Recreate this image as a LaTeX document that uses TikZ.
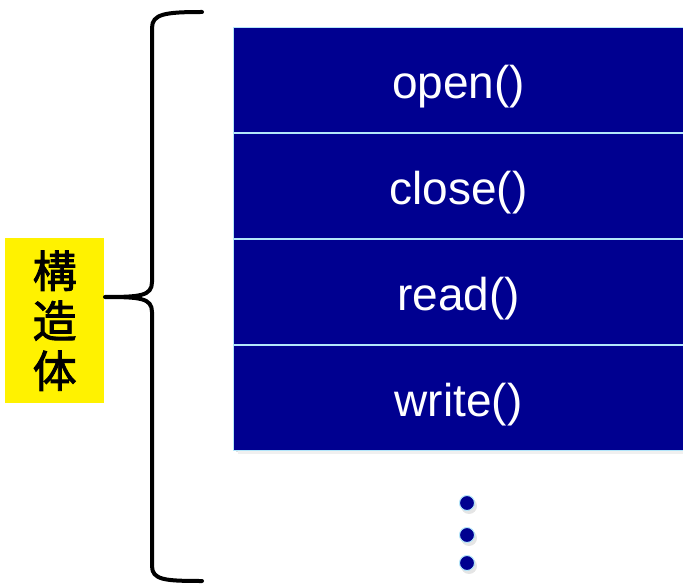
\documentclass[tikz,border=0pt]{standalone}
\usepackage{fontspec}
\setmainfont{Liberation Sans}
\newfontfamily\cjk[FakeBold=2]{Noto Sans CJK JP}
\begin{document}
\begin{tikzpicture}[x=1pt,y=-1pt,
  rowbox/.style={draw=cyan!30!white,line width=1.2pt,fill={rgb,255:red,0;green,0;blue,144},text=white,minimum width=450pt,minimum height=104.8pt,inner sep=0pt,text height=37pt,text depth=0pt,font=\fontsize{46}{50}\selectfont},
  dotc/.style={circle,fill={rgb,255:red,0;green,0;blue,144},draw=cyan!30!white,line width=1pt,minimum size=15pt,inner sep=0pt},
  lbl/.style={fill=yellow,minimum width=99pt,minimum height=165pt,inner sep=0pt,align=center,font=\cjk\fontsize{44}{50}\selectfont}]
\useasboundingbox (0,0) rectangle (683,588);
% shadow
\fill[black!12] (236,30) rectangle (686,452);
\fill[black!6] (238,32) rectangle (688,454);
\node[rowbox,anchor=north west] (r1) at (233,27) {open()};
\node[rowbox,anchor=north] (r2) at (r1.south) {close()};
\node[rowbox,anchor=north] (r3) at (r2.south) {read()};
\node[rowbox,anchor=north] (r4) at (r3.south) {write()};
\foreach \y/\n in {503/d1,535/d2,563/d3}{
  \fill[black!10] (469,\y+3) circle (8);
  \node[dotc] (\n) at (467,\y) {};
}
\node[lbl,anchor=north west] (lab) at (5,238) {構\\造\\体};
\draw[line width=4pt,line cap=round,line join=round]
  (202,12) .. controls (165,12) and (152,14) .. (152,28)
  -- (152,282) .. controls (152,296) and (140,297) .. (105,297)
  .. controls (140,297) and (152,298) .. (152,312)
  -- (152,566) .. controls (152,580) and (165,581) .. (202,581);
\end{tikzpicture}
\end{document}
